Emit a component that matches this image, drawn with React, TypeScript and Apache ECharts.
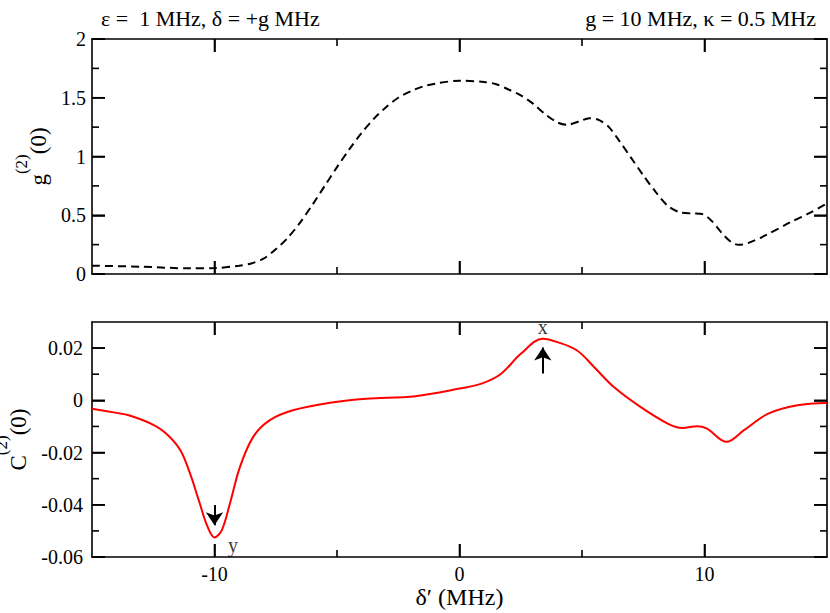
import React, { useEffect, useRef } from 'react';
import * as echarts from 'echarts';

// top panel: g2(0) vs delta'
const gX = [-15, -13, -11, -10, -9, -8.5, -8, -7.5, -7, -6.5, -6, -5.5, -5, -4.5, -4, -3.5, -3, -2.5, -2, -1.5, -1, 0, 1, 1.5, 2, 2.5, 3, 3.5, 4, 4.4, 4.9, 5.3, 5.7, 6.1, 6.5, 7, 7.5, 8, 8.5, 9, 9.5, 9.9, 10.3, 10.7, 11.1, 11.4, 11.8, 12.5, 13.5, 14.3, 15];
const gY = [0.071, 0.062, 0.048, 0.05, 0.07, 0.09, 0.13, 0.21, 0.31, 0.44, 0.59, 0.75, 0.91, 1.06, 1.2, 1.32, 1.42, 1.5, 1.555, 1.595, 1.62, 1.645, 1.635, 1.615, 1.57, 1.52, 1.45, 1.36, 1.29, 1.27, 1.3, 1.325, 1.31, 1.25, 1.14, 0.99, 0.84, 0.7, 0.58, 0.525, 0.515, 0.51, 0.45, 0.35, 0.27, 0.248, 0.265, 0.33, 0.44, 0.52, 0.6];

// bottom panel: C2(0) vs delta'
const cX = [-15, -14, -13.5, -12.6, -12, -11.4, -11.0, -10.6, -10.3, -10.0, -9.7, -9.37, -8.96, -8.42, -7.74, -6.8, -5.2, -3.8, -1.8, 0, 0.9, 1.7, 2.5, 3.4, 4.0, 4.8, 5.5, 6.3, 7.4, 8.5, 9.1, 9.7, 10.1, 10.9, 11.6, 12.6, 13.8, 15];
const cY = [-0.0032, -0.0048, -0.0057, -0.0089, -0.0125, -0.019, -0.028, -0.0395, -0.048, -0.0525, -0.0497, -0.0395, -0.0255, -0.014, -0.0076, -0.0038, -0.0008, 0.0006, 0.0016, 0.0045, 0.0064, 0.0102, 0.0178, 0.0236, 0.0223, 0.0191, 0.0127, 0.0051, -0.0026, -0.0089, -0.0106, -0.0099, -0.0108, -0.0159, -0.0115, -0.0051, -0.0019, -0.001];

// axis ranges, ticks and labels
const xRange = [-15, 15];
const gRange = [0, 2];
const cRange = [-0.06, 0.03];
const xMajor = [-10, 0, 10];
const xMinor = [-5, 5];
const gMajor = [0, 0.5, 1, 1.5, 2];
const gMinor = [0.25, 0.75, 1.25, 1.75];
const cMajor = [-0.06, -0.04, -0.02, 0, 0.02];
const cMinor = [-0.05, -0.03, -0.01, 0.01];

// annotations (data coordinates)
const arrowX = [-10, 3.4];
const arrowFromY = [-0.0401, 0.0103];
const arrowToY = [-0.0478, 0.0202];
const annotX = [3.4, -9.25];
const annotY = [0.0279, -0.0555];
const annotText = ['x', 'y'];

const FONT = 'Liberation Serif';
const MAJ = 13;
const MIN = 7;

function xValueAxis(gridIndex: number, position: string, labels: boolean, name?: string) {
  return {
    type: 'value', gridIndex, position, min: xRange[0], max: xRange[1],
    name: name || '', nameLocation: 'middle', nameGap: 27,
    nameTextStyle: { fontFamily: FONT, fontSize: 24, color: '#000' },
    axisLine: { show: true, onZero: false, lineStyle: { color: '#000', width: 1.6 } },
    axisTick: { show: true, inside: true, length: MAJ, customValues: xMajor, lineStyle: { color: '#000', width: 1.6 } },
    axisLabel: labels
      ? { show: true, customValues: xMajor, fontFamily: FONT, fontSize: 20, color: '#000', margin: 7, formatter: (v: number) => String(v) }
      : { show: false },
    splitLine: { show: false },
  };
}

function yValueAxis(gridIndex: number, position: string, range: number[], major: number[], labels: boolean, margin: number, nameGap: number, name?: string) {
  return {
    type: 'value', gridIndex, position, min: range[0], max: range[1],
    name: name || '', nameLocation: 'middle', nameRotate: 90, nameGap,
    nameTextStyle: {
      fontFamily: FONT, color: '#000',
      rich: {
        m: { fontFamily: FONT, fontSize: 23, color: '#000', lineHeight: 52 },
        s: { fontFamily: FONT, fontSize: 17, color: '#000', verticalAlign: 'top', lineHeight: 17 },
      },
    },
    axisLine: { show: true, onZero: false, lineStyle: { color: '#000', width: 1.6 } },
    axisTick: { show: true, inside: true, length: MAJ, customValues: major, lineStyle: { color: '#000', width: 1.6 } },
    axisLabel: labels
      ? { show: true, customValues: major, fontFamily: FONT, fontSize: 20, color: '#000', margin, formatter: (v: number) => String(v) }
      : { show: false },
    splitLine: { show: false },
  };
}

// inside ticks on bottom & top edges of a grid
function xTickSeries(axisIndex: number, yr: number[]) {
  return {
    type: 'custom', xAxisIndex: axisIndex, yAxisIndex: axisIndex, silent: true, z: 5, clip: false,
    data: [...xMajor.map((v) => [v, MAJ]), ...xMinor.map((v) => [v, MIN])],
    renderItem: (_p: any, api: any) => {
      const v = api.value(0);
      const len = api.value(1);
      const b = api.coord([v, yr[0]]);
      const t = api.coord([v, yr[1]]);
      return {
        type: 'group',
        children: [
          { type: 'line', shape: { x1: b[0], y1: b[1], x2: b[0], y2: b[1] - len }, style: { stroke: '#000', lineWidth: 1.6 } },
          { type: 'line', shape: { x1: t[0], y1: t[1], x2: t[0], y2: t[1] + len }, style: { stroke: '#000', lineWidth: 1.6 } },
        ],
      };
    },
  };
}

// inside ticks on left & right edges of a grid
function yTickSeries(axisIndex: number, major: number[], minor: number[]) {
  return {
    type: 'custom', xAxisIndex: axisIndex, yAxisIndex: axisIndex, silent: true, z: 5, clip: false,
    encode: { x: 1, y: 0 },
    data: [...major.map((v) => [v, MAJ]), ...minor.map((v) => [v, MIN])],
    renderItem: (_p: any, api: any) => {
      const v = api.value(0);
      const len = api.value(1);
      const l = api.coord([xRange[0], v]);
      const r = api.coord([xRange[1], v]);
      return {
        type: 'group',
        children: [
          { type: 'line', shape: { x1: l[0], y1: l[1], x2: l[0] + len, y2: l[1] }, style: { stroke: '#000', lineWidth: 1.6 } },
          { type: 'line', shape: { x1: r[0], y1: r[1], x2: r[0] - len, y2: r[1] }, style: { stroke: '#000', lineWidth: 1.6 } },
        ],
      };
    },
  };
}

export default function App() {
  const ref = useRef<HTMLDivElement>(null);
  useEffect(() => {
    if (!ref.current) return;
    const chart = echarts.init(ref.current, null, { renderer: 'svg' });
    const option: any = {
      animation: false,
      title: [
        { text: 'ε =  1 MHz, δ = +g MHz', left: 96, top: 2, textStyle: { fontFamily: FONT, fontSize: 22, fontWeight: 'normal', color: '#000' } },
        { text: 'g = 10 MHz, κ = 0.5 MHz', right: 9, top: 2, textStyle: { fontFamily: FONT, fontSize: 22, fontWeight: 'normal', color: '#000' } },
      ],
      grid: [
        { left: 92, right: 3, top: 39, height: 235, containLabel: false, outerBoundsMode: 'none' },
        { left: 92, right: 3, top: 322, height: 235, containLabel: false, outerBoundsMode: 'none' },
      ],
      xAxis: [
        xValueAxis(0, 'bottom', false),
        xValueAxis(0, 'top', false),
        xValueAxis(1, 'bottom', true, 'δ′ (MHz)'),
        xValueAxis(1, 'top', false),
      ],
      yAxis: [
        yValueAxis(0, 'left', gRange, gMajor, true, 6, 23, '{m|g}{s|(2)}{m|(0)}'),
        yValueAxis(0, 'right', gRange, gMajor, false, 6, 23),
        yValueAxis(1, 'left', cRange, cMajor, true, 9, 35, '{m|C}{s|(2)}{m|(0)}'),
        yValueAxis(1, 'right', cRange, cMajor, false, 9, 35),
      ],
      series: [
        xTickSeries(0, gRange),
        yTickSeries(0, gMajor, gMinor),
        xTickSeries(2, cRange),
        yTickSeries(2, cMajor, cMinor),
        {
          type: 'line', xAxisIndex: 0, yAxisIndex: 0,
          data: gX.map((x, i) => [x, gY[i]]),
          smooth: 0.3, showSymbol: false,
          lineStyle: { color: '#000', width: 2, type: [8, 5] },
        },
        {
          type: 'line', xAxisIndex: 2, yAxisIndex: 2,
          data: cX.map((x, i) => [x, cY[i]]),
          smooth: 0.35, showSymbol: false,
          lineStyle: { color: '#ff0000', width: 2 },
          markLine: {
            silent: true, symbol: ['none', 'arrow'], symbolSize: 13,
            label: { show: false },
            lineStyle: { color: '#000', width: 2, type: 'solid' },
            data: arrowX.map((x, i) => [{ coord: [x, arrowFromY[i]] }, { coord: [x, arrowToY[i]] }]),
          },
        },
        {
          type: 'scatter', xAxisIndex: 2, yAxisIndex: 2, silent: true,
          symbolSize: 0,
          data: annotX.map((x, i) => [x, annotY[i]]),
          label: {
            show: true, position: 'inside', fontFamily: FONT, fontSize: 20, color: '#000',
            formatter: (p: any) => annotText[p.dataIndex],
          },
        },
      ],
    };
    chart.setOption(option);
    return () => chart.dispose();
  }, []);
  return <div ref={ref} style={{ position: 'absolute', left: 0, top: 0, width: 830, height: 613 }} />;
}
